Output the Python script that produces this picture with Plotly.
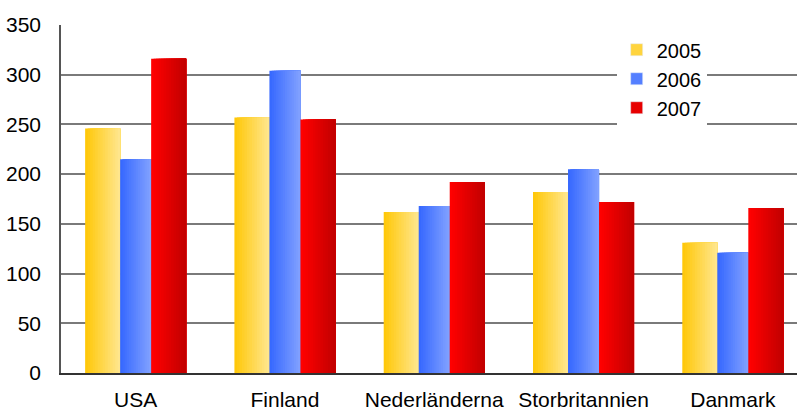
import plotly.graph_objects as go

categories = ["USA", "Finland", "Nederländerna", "Storbritannien", "Danmark"]
years = ["2005", "2006", "2007"]
v2005 = [246, 257, 162, 182, 131]
v2006 = [215, 304, 168, 205, 121]
v2007 = [316, 255, 192, 172, 166]
series = [v2005, v2006, v2007]
y_ticks = [0, 50, 100, 150, 200, 250, 300, 350]

# gradient endpoints (left -> right) for each series
grad = [((255, 200, 10), (255, 230, 140)),
        ((55, 105, 255), (128, 160, 255)),
        ((255, 0, 0), (195, 0, 0))]
bar_widths = [0.2345, 0.2077, 0.2345]

N = 14
group_w = sum(bar_widths)

fig = go.Figure()
xs = list(range(len(categories)))
for si, (name, vals) in enumerate(zip(years, series)):
    c0, c1 = grad[si]
    bw = bar_widths[si]
    base = -group_w / 2 + sum(bar_widths[:si])
    sw = bw / N
    for k in range(N):
        t = k / (N - 1)
        col = "rgb(%d,%d,%d)" % tuple(round(c0[j] + (c1[j] - c0[j]) * t) for j in range(3))
        fig.add_trace(go.Bar(
            x=xs, y=vals, width=bw - k * sw, offset=base + k * sw,
            marker=dict(color=col, line=dict(width=0)),
            name=name, legendgroup=name, showlegend=False, hoverinfo="skip"))
    fig.add_trace(go.Bar(
        x=[None], y=[None], name=name, legendgroup=name, showlegend=True,
        marker=dict(color="rgb(%d,%d,%d)" % tuple(round(c0[j] + (c1[j] - c0[j]) * 0.4) for j in range(3)))))

fig.update_layout(
    width=797, height=412,
    margin=dict(l=61, r=0, t=25, b=39),
    paper_bgcolor="white", plot_bgcolor="white",
    barmode="overlay",
    font=dict(family="Liberation Sans, Arial, sans-serif", size=21, color="black"),
    showlegend=True,
    legend=dict(x=0.755, y=0.985, xanchor="left", yanchor="top", bgcolor="white",
                font=dict(size=20), tracegroupgap=0, itemwidth=30),
    xaxis=dict(range=[-0.5, 4.43], tickmode="array", tickvals=xs, ticktext=categories,
               showgrid=False, showline=True, linecolor="#333", linewidth=1.5,
               ticks="", ticklabelstandoff=7, fixedrange=True, zeroline=False,
               automargin=False),
    yaxis=dict(range=[0, 350], tickmode="array", tickvals=y_ticks,
               showgrid=True, gridcolor="#7a7a7a", gridwidth=1.5,
               showline=True, linecolor="#555", linewidth=1.5,
               ticks="", ticklabelstandoff=14, zeroline=False, automargin=False),
)

fig.write_html("out.html")
